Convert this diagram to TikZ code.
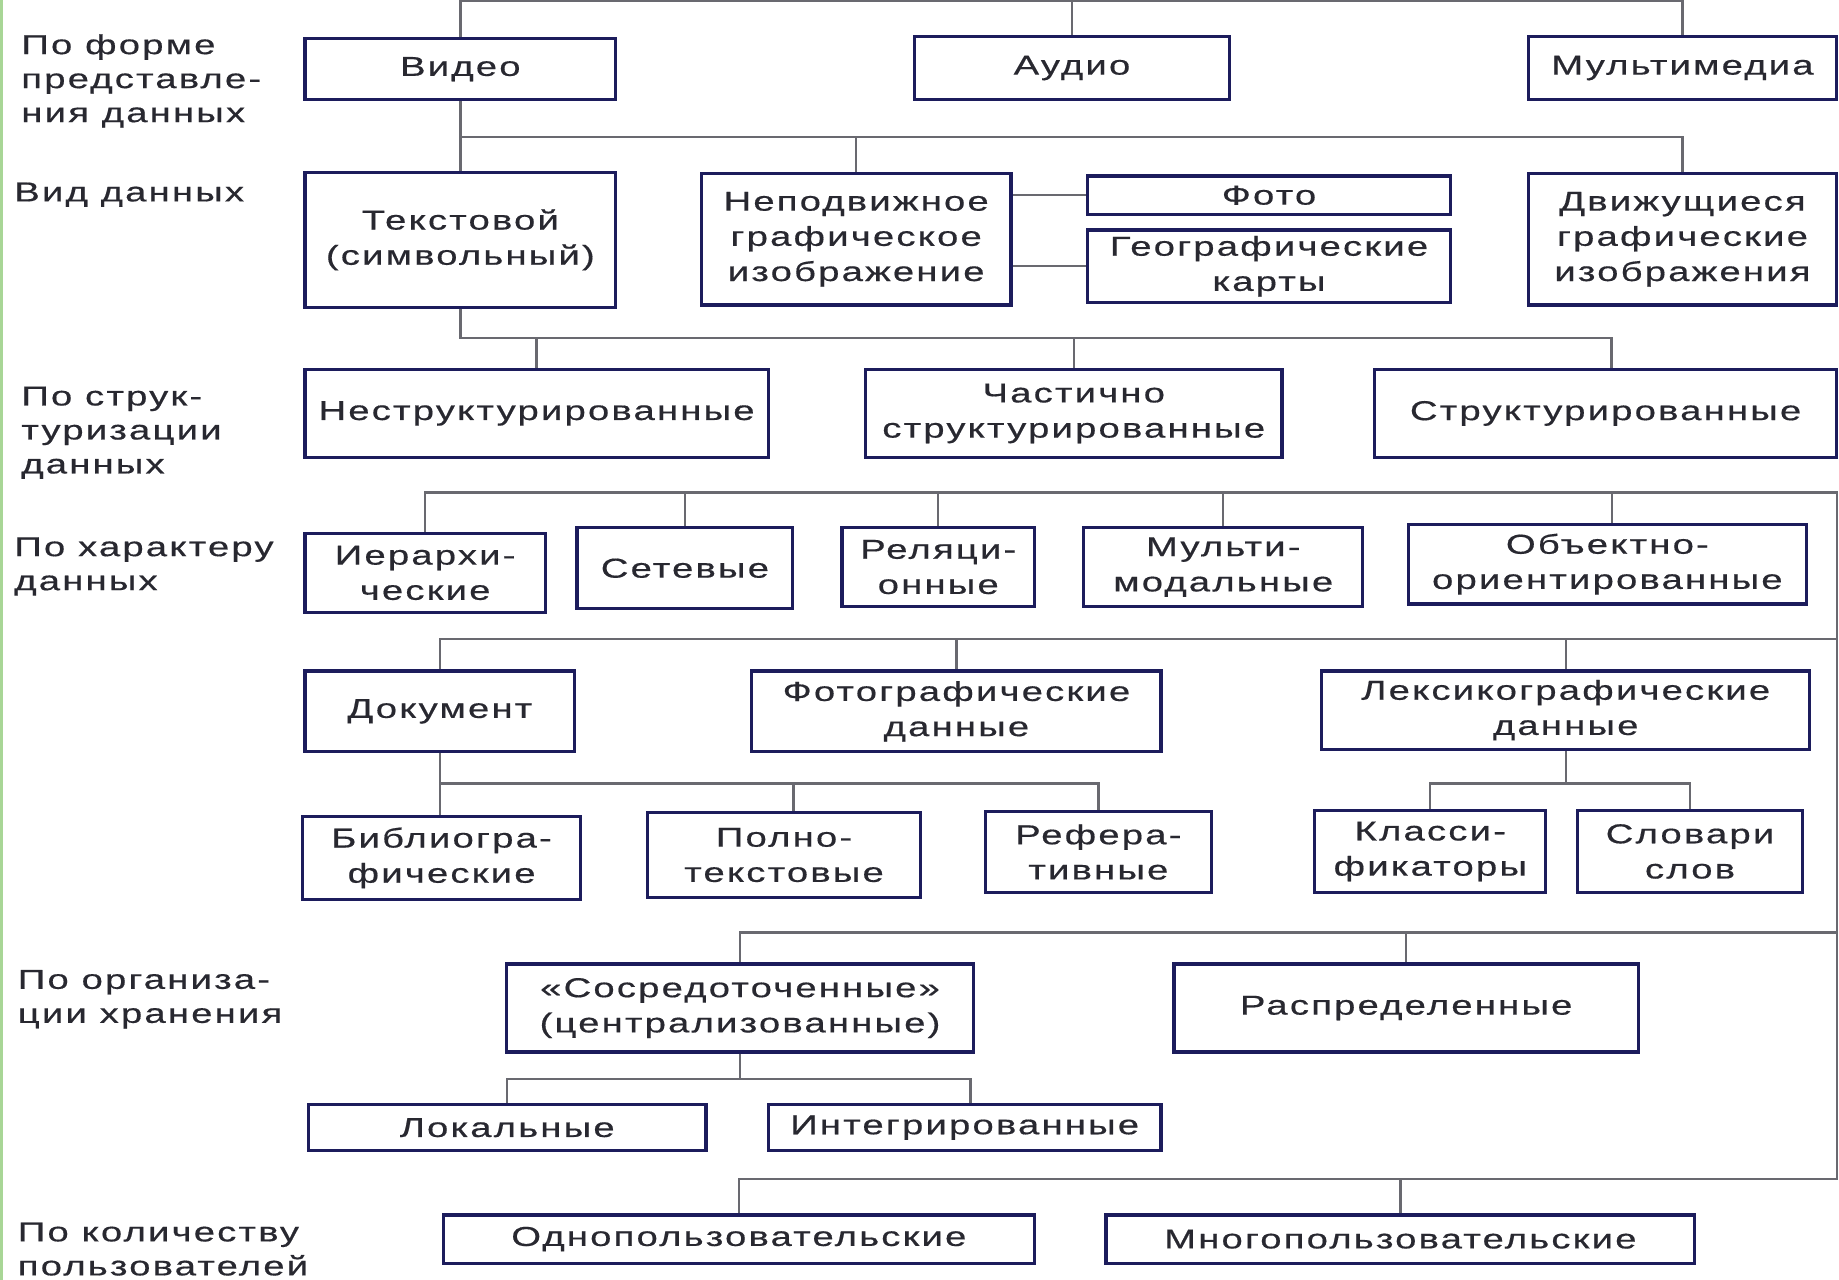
\documentclass[tikz,border=0pt]{standalone}
\usepackage{fontspec}
\newfontfamily\dfont[FakeStretch=1.4,LetterSpace=8,FakeBold=0.5]{Liberation Sans}
\definecolor{boxc}{RGB}{28,28,92}
\definecolor{linec}{RGB}{105,105,112}
\definecolor{txtc}{RGB}{40,40,48}
\definecolor{edgec}{RGB}{168,214,150}
\pgfdeclarelayer{bg}
\pgfsetlayers{bg,main}
\tikzset{
  box/.style={draw=boxc, line width=2.8pt, fill=white, inner sep=0pt,
    align=center, text=txtc, font=\dfont\fontsize{23.3}{30}\selectfont},
  lbl/.style={inner sep=0pt, align=left, anchor=west, text=txtc,
    font=\dfont\fontsize{23.3}{29}\selectfont},
  conn/.style={draw=linec, line width=2pt}
}
% box given by left, top, right, bottom edges
\newcommand\dbox[6]{\node[box, minimum width={#4pt-#2pt}, minimum height={#5pt-#3pt}]
  (#1) at ({(#2+#4)/2},{(#3+#5)/2}) {#6};}
\begin{document}
\begin{tikzpicture}[x=1pt,y=-1pt]
\useasboundingbox (0,0) rectangle (1568,1091);

% row captions
\node[lbl] (cA) at (18,69) {По форме\\представле-\\ния данных};
\node[lbl] (cB) at (12,166) {Вид данных};
\node[lbl] (cC) at (18,369) {По струк-\\туризации\\данных};
\node[lbl] (cD) at (12,483) {По характеру\\данных};
\node[lbl] (cE) at (15,852) {По организа-\\ции хранения};
\node[lbl] (cF) at (15,1065) {По количеству\\пользователей};

% boxes
\dbox{video}{260}{33}{525}{85}{Видео}
\dbox{audio}{780}{31}{1048}{85}{Аудио}
\dbox{mm}{1303}{31}{1566}{85}{Мультимедиа}
\dbox{text}{260}{147}{525}{262}{Текстовой\\(символьный)}
\dbox{still}{598}{148}{862}{260}{Неподвижное\\графическое\\изображение}
\dbox{foto}{927}{150}{1237}{183}{Фото}
\dbox{geo}{927}{196}{1237}{258}{Географические\\карты}
\dbox{move}{1303}{148}{1566}{260}{Движущиеся\\графические\\изображения}
\dbox{unstr}{260}{315}{655}{390}{Неструктурированные}
\dbox{part}{738}{315}{1093}{390}{Частично\\структурированные}
\dbox{struct}{1172}{315}{1566}{390}{Структурированные}
\dbox{hier}{260}{455}{465}{522}{Иерархи-\\ческие}
\dbox{net}{492}{450}{676}{519}{Сетевые}
\dbox{rel}{718}{450}{882}{517}{Реляци-\\онные}
\dbox{mmod}{924}{450}{1162}{517}{Мульти-\\модальные}
\dbox{oo}{1201}{447}{1540}{515}{Объектно-\\ориентированные}
\dbox{doc}{260}{572}{490}{641}{Документ}
\dbox{photo}{641}{572}{990}{641}{Фотографические\\данные}
\dbox{lex}{1127}{572}{1543}{639}{Лексикографические\\данные}
\dbox{bib}{258}{696}{495}{767}{Библиогра-\\фические}
\dbox{full}{552}{693}{785}{765}{Полно-\\текстовые}
\dbox{ref}{840}{692}{1033}{761}{Рефера-\\тивные}
\dbox{cls}{1121}{691}{1318}{761}{Класси-\\фикаторы}
\dbox{dict}{1345}{691}{1537}{761}{Словари\\слов}
\dbox{cent}{432}{822}{830}{897}{«Сосредоточенные»\\(централизованные)}
\dbox{dist}{1001}{822}{1397}{897}{Распределенные}
\dbox{loc}{263}{942}{602}{981}{Локальные}
\dbox{integ}{655}{942}{990}{981}{Интегрированные}
\dbox{single}{378}{1036}{882}{1077}{Однопользовательские}
\dbox{multi}{943}{1036}{1445}{1077}{Многопользовательские}

% bus levels and the right-hand trunk
\coordinate (b0) at (0,1);
\coordinate (b1) at (0,117);
\coordinate (b2) at (0,288);
\coordinate (b3) at (0,420);
\coordinate (b4) at (0,545);
\coordinate (b5) at (0,668);
\coordinate (b6) at (0,795);
\coordinate (b7) at (0,920);
\coordinate (b8) at (0,1005);
\coordinate (fx) at (1566,0);

\begin{pgfonlayer}{bg}
\fill[white] (0,0) rectangle (1568,1091);
\fill[edgec] (0,0) rectangle (2.5,1091);
% form of presentation
\draw[conn] (video.north) -- (video.north |- b0) -- (mm.north |- b0) -- (mm.north);
\draw[conn] (audio.north) -- (audio.north |- b0);
% kind of data
\draw[conn] (video.south) -- (video.south |- text.north);
\draw[conn] (video.south |- b1) -- (move.north |- b1) -- (move.north);
\draw[conn] (still.north |- b1) -- (still.north);
\draw[conn] (still.east |- foto.west) -- (foto.west);
\draw[conn] (still.east |- geo.west) -- (geo.west);
% structuring
\draw[conn] (text.south) -- (text.south |- b2) -- ([xshift=5pt]struct.north |- b2) -- ([xshift=5pt]struct.north);
\draw[conn] (unstr.north |- b2) -- (unstr.north);
\draw[conn] (part.north |- b2) -- (part.north);
% trunk on the right
\draw[conn] (hier.north) -- (hier.north |- b3) -- (fx |- b3) -- (fx |- b8)
  -- (single.north |- b8) -- (single.north);
\draw[conn] (net.north |- b3) -- (net.north);
\draw[conn] (rel.north |- b3) -- (rel.north);
\draw[conn] (mmod.north |- b3) -- (mmod.north);
\draw[conn] ([xshift=4pt]oo.north |- b3) -- ([xshift=4pt]oo.north);
% content kinds
\draw[conn] (doc.north) -- (doc.north |- b4) -- (fx |- b4);
\draw[conn] (photo.north |- b4) -- (photo.north);
\draw[conn] (lex.north |- b4) -- (lex.north);
\draw[conn] (doc.south) -- (doc.south |- bib.north);
\draw[conn] (doc.south |- b5) -- (ref.north |- b5) -- (ref.north);
\draw[conn] ([xshift=8pt]full.north |- b5) -- ([xshift=8pt]full.north);
\draw[conn] (lex.south) -- (lex.south |- b5);
\draw[conn] (cls.north) -- (cls.north |- b5) -- (dict.north |- b5) -- (dict.north);
% storage
\draw[conn] (cent.north) -- (cent.north |- b6) -- (fx |- b6);
\draw[conn] (dist.north |- b6) -- (dist.north);
\draw[conn] (cent.south) -- (cent.south |- b7);
\draw[conn] (loc.north) -- (loc.north |- b7) -- ([xshift=5pt]integ.north |- b7) -- ([xshift=5pt]integ.north);
% users
\draw[conn] (multi.north |- b8) -- (multi.north);
\end{pgfonlayer}
\end{tikzpicture}
\end{document}
